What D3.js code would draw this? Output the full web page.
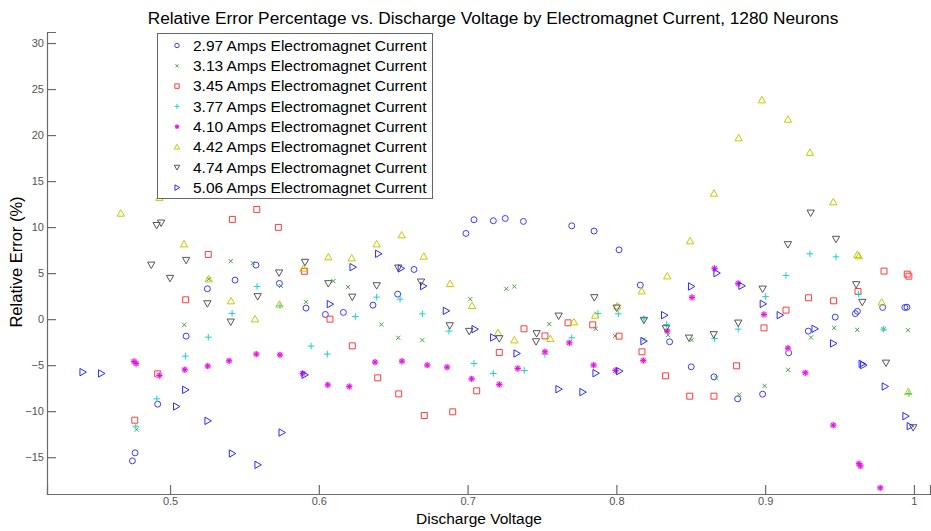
<!DOCTYPE html>
<html><head><meta charset="utf-8">
<script src="https://cdn.jsdelivr.net/npm/d3@7"></script>
<style>
html,body{margin:0;padding:0;background:#fff;}
svg{display:block;font-family:"Liberation Sans",Arial,Helvetica,sans-serif;}
</style></head>
<body>
<svg id="chart" width="931" height="531"></svg>
<script>
const title = "Relative Error Percentage vs. Discharge Voltage by Electromagnet Current, 1280 Neurons";
const xLabel = "Discharge Voltage";
const yLabel = "Relative Error (%)";
const xTicks = [0.5, 0.6, 0.7, 0.8, 0.9, 1];
const yTicks = [-15, -10, -5, 0, 5, 10, 15, 20, 25, 30];
const seriesNames = ["2.97 Amps Electromagnet Current","3.13 Amps Electromagnet Current","3.45 Amps Electromagnet Current","3.77 Amps Electromagnet Current","4.10 Amps Electromagnet Current","4.42 Amps Electromagnet Current","4.74 Amps Electromagnet Current","5.06 Amps Electromagnet Current"];
const markers = ["circle","x","square","plus","star","triup","tridown","triright"];
const colors = ["#3a3aff","#47a347","#ff3b3b","#20d0d0","#e010e0","#c8c800","#555555","#2a2aff"];

const s297 = [[0.4747,-15.4],[0.4765,-14.53],[0.4917,-9.24],[0.5108,-1.85],[0.5251,3.3],[0.5437,4.24],[0.5578,5.87],[0.5735,3.88],[0.5914,1.2],[0.6044,0.51],[0.6165,0.73],[0.6364,1.52],[0.653,2.72],[0.664,5.4],[0.6989,9.31],[0.7043,10.8],[0.7173,10.69],[0.7253,10.94],[0.7375,10.62],[0.77,10.14],[0.785,9.57],[0.8018,7.53],[0.8161,3.7],[0.8358,-2.46],[0.8503,-5.18],[0.8656,-6.27],[0.8815,-8.66],[0.8983,-8.15],[0.9158,-3.66],[0.929,-1.3],[0.9471,0.22],[0.9606,0.6],[0.962,0.85],[0.979,1.27],[0.9939,1.27],[0.9953,1.3]];
const s313 = [[0.4776,-12.0],[0.5096,-0.62],[0.526,4.35],[0.5408,6.3],[0.5556,6.09],[0.5746,3.6],[0.5914,1.88],[0.6098,4.13],[0.6196,3.48],[0.642,-0.58],[0.6534,-2.03],[0.6696,-2.28],[0.7018,2.17],[0.726,3.3],[0.7314,3.55],[0.7549,-0.54],[0.7861,-1.05],[0.7991,-1.82],[0.8185,-2.2],[0.8347,-1.74],[0.8506,-2.28],[0.8672,-6.4],[0.8826,-8.19],[0.8996,-7.25],[0.9155,-5.51],[0.9308,-1.99],[0.9464,-0.95],[0.9619,-1.16],[0.9796,-1.09],[0.996,-1.2]];
const s345 = [[0.4763,-10.98],[0.4917,-5.94],[0.5105,2.1],[0.5257,7.03],[0.5419,10.84],[0.5583,11.92],[0.5728,9.97],[0.5903,5.2],[0.6075,0.0],[0.6225,-2.9],[0.6396,-6.38],[0.6537,-8.12],[0.6709,-10.47],[0.69,-10.07],[0.7061,-7.79],[0.7213,-3.62],[0.7379,-1.05],[0.752,-1.82],[0.7675,-0.4],[0.7841,-0.62],[0.8018,-1.85],[0.8172,-3.55],[0.8331,-6.16],[0.8493,-8.37],[0.8656,-8.37],[0.8808,-5.07],[0.8992,-0.95],[0.914,0.98],[0.9292,2.32],[0.946,1.99],[0.9624,3.0],[0.9799,5.22],[0.9955,4.89],[0.9966,4.67]];
const s377 = [[0.477,-11.63],[0.4911,-8.66],[0.5103,-4.02],[0.5257,-1.96],[0.5417,0.62],[0.5585,3.55],[0.5739,1.45],[0.5948,-2.93],[0.6057,-3.8],[0.6245,0.29],[0.6389,2.39],[0.6546,2.17],[0.6696,0.58],[0.6875,-1.3],[0.7043,-4.82],[0.7173,-5.9],[0.7381,-5.58],[0.752,-3.84],[0.77,-2.03],[0.7876,0.62],[0.8013,0.58],[0.8185,0.04],[0.8338,-0.58],[0.866,-2.1],[0.8819,-1.09],[0.9003,2.47],[0.914,4.75],[0.9301,7.1],[0.9476,6.77],[0.9628,2.72],[0.9796,-1.09],[0.9966,-8.08]];
const s410 = [[0.4758,-4.6],[0.4772,-4.82],[0.4928,-6.12],[0.5099,-5.5],[0.5253,-5.1],[0.5397,-4.53],[0.558,-3.8],[0.5739,-3.88],[0.5892,-5.9],[0.606,-7.14],[0.6205,-7.32],[0.6378,-4.67],[0.6559,-4.57],[0.6729,-5.0],[0.6862,-5.22],[0.7027,-6.49],[0.7213,-7.1],[0.7337,-5.36],[0.752,-3.55],[0.7684,-2.57],[0.7847,-5.0],[0.7995,-5.58],[0.8181,-4.49],[0.8342,-1.3],[0.8508,2.36],[0.866,5.51],[0.8819,3.88],[0.8992,0.51],[0.9153,-3.15],[0.927,-5.83],[0.9458,-11.52],[0.963,-15.7],[0.964,-15.95],[0.9774,-18.33]];
const s442 = [[0.4669,11.49],[0.4928,13.2],[0.5094,8.15],[0.526,4.35],[0.541,1.96],[0.5571,0.0],[0.5735,1.6],[0.5897,5.5],[0.6064,6.74],[0.6221,6.63],[0.6389,8.15],[0.6557,9.13],[0.6705,6.81],[0.6882,3.84],[0.703,1.45],[0.7204,-1.49],[0.7314,-2.28],[0.7556,-2.14],[0.7715,-0.33],[0.7858,0.4],[0.8006,1.41],[0.817,3.04],[0.8342,4.67],[0.8495,8.48],[0.8656,13.66],[0.8822,19.67],[0.8978,23.8],[0.9153,21.7],[0.9301,18.1],[0.9458,12.72],[0.962,7.0],[0.963,6.85],[0.9783,1.82],[0.9962,-7.9]];
const s474 = [[0.4874,5.9],[0.491,10.2],[0.494,10.47],[0.5,4.46],[0.5108,6.41],[0.5251,1.7],[0.5408,-0.29],[0.5589,2.47],[0.5733,5.05],[0.5907,6.2],[0.6064,3.88],[0.6225,2.42],[0.6389,3.66],[0.6534,5.58],[0.6687,4.06],[0.688,-0.69],[0.7011,-1.3],[0.7213,-2.1],[0.746,-2.43],[0.7464,-1.55],[0.7612,0.36],[0.7852,2.36],[0.8002,1.23],[0.8185,-0.1],[0.8333,-1.01],[0.8488,-2.03],[0.8654,-1.66],[0.8819,-0.4],[0.8983,3.29],[0.9153,8.12],[0.9306,11.55],[0.9476,8.7],[0.9612,3.77],[0.9653,1.85],[0.9812,-4.75],[0.9995,-11.77]];
const s506 = [[0.4413,-5.76],[0.4538,-5.9],[0.5042,-9.49],[0.5103,-7.68],[0.5253,-11.05],[0.5417,-14.6],[0.5589,-15.83],[0.5751,-12.32],[0.5905,-6.05],[0.6075,1.63],[0.6228,5.65],[0.64,7.1],[0.6552,5.51],[0.6702,3.59],[0.6855,0.9],[0.7048,-1.09],[0.7173,-1.99],[0.733,-3.73],[0.7612,-7.61],[0.7773,-7.93],[0.7861,-5.87],[0.802,-5.65],[0.8183,-2.39],[0.8322,0.43],[0.8503,3.55],[0.8674,5.0],[0.8842,3.62],[0.8985,1.66],[0.9099,0.43],[0.9333,-1.05],[0.9458,-2.64],[0.965,-4.85],[0.966,-5.0],[0.9805,-7.32],[0.9944,-10.54],[0.9973,-11.63]];
const seriesValues = [s297,s313,s345,s377,s410,s442,s474,s506];

const svg = d3.select("#chart");
const x = d3.scaleLinear().domain([0.4173, 1.0108]).range([47, 930]);
const y = d3.scaleLinear().domain([-19.0, 31.2]).range([494, 32]);
const axisColor = "#6a6a6a";

// axes
const xAxis = d3.axisBottom(x).tickValues(xTicks).tickSize(-9).tickPadding(3).tickFormat(d3.format("~g"));
const yAxis = d3.axisLeft(y).tickValues(yTicks).tickSize(-9).tickPadding(3).tickFormat(d3.format("d"));
const gx = svg.append("g").attr("transform", `translate(0,${y(-19.0)})`).call(xAxis);
const gy = svg.append("g").attr("transform", `translate(${x(0.4173)},0)`).call(yAxis);
[gx, gy].forEach(g => {
  g.select(".domain").attr("stroke", axisColor).attr("stroke-width", 1.2);
  g.selectAll(".tick line").attr("stroke", axisColor).attr("stroke-width", 1.2);
  g.selectAll(".tick text").attr("fill", "#555").attr("font-size", 11).attr("font-family", "Liberation Sans, Arial, sans-serif");
});

// markers
function markerPath(type, s) {
  switch (type) {
    case "circle": { const r = s*0.85; return `M${r},0A${r},${r} 0 1,1 ${-r},0A${r},${r} 0 1,1 ${r},0Z`; }
    case "x": { const a = s*0.6; return `M${-a},${-a}L${a},${a}M${-a},${a}L${a},${-a}`; }
    case "square": { const a = s*0.85; return `M${-a},${-a}H${a}V${a}H${-a}Z`; }
    case "plus": { const a = s*0.95; return `M${-a},0H${a}M0,${-a}V${a}`; }
    case "star": { const a = s*0.85, b = s*0.6; return `M${-a},0H${a}M0,${-a}V${a}M${-b},${-b}L${b},${b}M${-b},${b}L${b},${-b}`; }
    case "triup": { const a = s*1.05; return `M0,${-a}L${a},${a*0.75}L${-a},${a*0.75}Z`; }
    case "tridown": { const a = s*1.05; return `M0,${a}L${a},${-a*0.75}L${-a},${-a*0.75}Z`; }
    case "triright": { const a = s*1.05; return `M${a},0L${-a*0.75},${a}L${-a*0.75},${-a}Z`; }
  }
}

const plot = svg.append("g");
seriesValues.forEach((vals, i) => {
  const g = plot.append("g");
  if (markers[i] === "star") {
    g.selectAll("circle.halo").data(vals).join("circle")
      .attr("cx", d => x(d[0])).attr("cy", d => y(d[1])).attr("r", 3.2)
      .attr("fill", "#f3a6f3").attr("stroke", "none");
  }
  g.selectAll("path").data(vals).join("path")
    .attr("transform", d => `translate(${x(d[0])},${y(d[1])})`)
    .attr("d", markerPath(markers[i], 3.5))
    .attr("fill", "none").attr("stroke", colors[i]).attr("stroke-width", 1);
});

// title and labels
svg.append("text").attr("x", 493).attr("y", 24).attr("text-anchor", "middle")
  .attr("font-size", 17.3).attr("fill", "#000").text(title);
svg.append("text").attr("x", 479).attr("y", 524).attr("text-anchor", "middle")
  .attr("font-size", 15.5).attr("fill", "#000").text(xLabel);
svg.append("text").attr("transform", "translate(22,262) rotate(-90)").attr("text-anchor", "middle")
  .attr("font-size", 16.5).attr("fill", "#000").text(yLabel);

// legend
const lg = svg.append("g");
lg.append("rect").attr("x", 157.5).attr("y", 33.5).attr("width", 275).attr("height", 165)
  .attr("fill", "#fff").attr("stroke", "#666").attr("stroke-width", 1);
seriesNames.forEach((name, i) => {
  const cy = 45.5 + i * 20.3;
  if (markers[i] === "star") {
    lg.append("circle").attr("cx", 177).attr("cy", cy).attr("r", 2.4).attr("fill", "#f3a6f3");
  }
  lg.append("path").attr("transform", `translate(177,${cy})`).attr("d", markerPath(markers[i], 2.6))
    .attr("fill", "none").attr("stroke", colors[i]).attr("stroke-width", 1);
  lg.append("text").attr("x", 193).attr("y", cy + 5.2).attr("font-size", 15.5).attr("fill", "#000").text(name);
});
</script>
</body></html>
